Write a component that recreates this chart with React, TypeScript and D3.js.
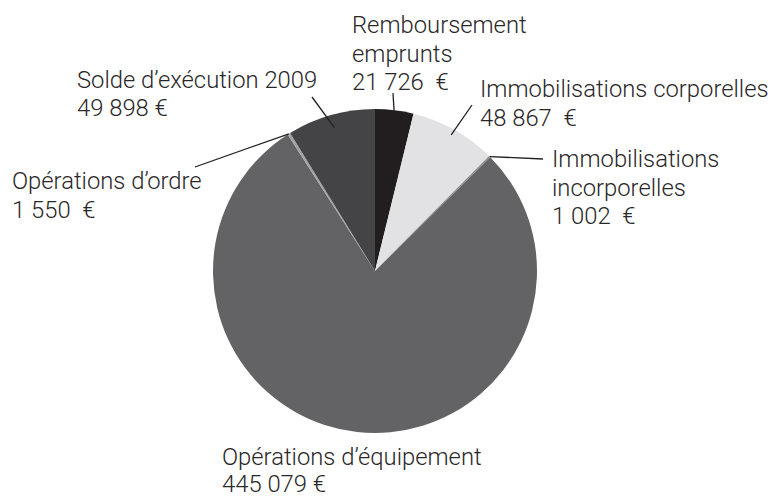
import React from "react";
import * as d3 from "d3";

const categories = [
  "Remboursement emprunts",
  "Immobilisations corporelles",
  "Immobilisations incorporelles",
  "Opérations d’équipement",
  "Opérations d’ordre",
  "Solde d’exécution 2009",
];
const values = [21726, 48867, 1002, 445079, 1550, 49898];
const colors = ["#221e1f", "#e2e2e4", "#8c8c8e", "#636365", "#a3a3a5", "#444446"];
const labelLines = [
  ["Remboursement", "emprunts", "21 726\u00A0 €"],
  ["Immobilisations corporelles", "48 867\u00A0 €"],
  ["Immobilisations", "incorporelles", "1 002\u00A0 €"],
  ["Opérations d’équipement", "445 079 €"],
  ["Opérations d’ordre", "1 550\u00A0 €"],
  ["Solde d’exécution 2009", "49 898 €"],
];
// label anchor (text x, first baseline) and leader outer end, leader inner radius
const labelX = [352, 480, 552, 222, 12, 77];
const labelY = [33, 97, 167, 465, 189, 88];
const lineHs = [28.5, 28.5, 28.5, 27, 28.5, 27.5];
const leaderOuter: ([number, number] | null)[] = [
  [393, 93],
  [472, 105],
  [543, 159],
  null,
  [195, 167],
  [312, 97],
];
const leaderInnerR = [160, 156, 162, 0, 162, 149];

const W = 780;
const H = 499;
const cx = 375;
const cy = 271;
const R = 162;

export default function App() {
  const pie = d3.pie<number>().sort(null).value((d) => d);
  const arcs = pie(values);
  const arc = d3.arc<d3.PieArcDatum<number>>().innerRadius(0).outerRadius(R);

  return (
    <svg
      width={W}
      height={H}
      style={{ position: "absolute", left: 0, top: 0, background: "#fff" }}
      fontFamily="Roboto, 'DejaVu Sans', sans-serif"
    >
      <g transform={`translate(${cx},${cy})`}>
        {arcs.map((a, i) => (
          <path key={i} d={arc(a) || ""} fill={colors[i]} />
        ))}
      </g>
      {arcs.map((a, i) => {
        const o = leaderOuter[i];
        if (!o) return null;
        const mid = (a.startAngle + a.endAngle) / 2;
        const ix = cx + leaderInnerR[i] * Math.sin(mid);
        const iy = cy - leaderInnerR[i] * Math.cos(mid);
        return (
          <line
            key={"l" + i}
            x1={ix}
            y1={iy}
            x2={o[0]}
            y2={o[1]}
            stroke="#231f20"
            strokeWidth={1.3}
          />
        );
      })}
      {labelLines.map((lines, i) => (
        <text
          key={"t" + i}
          x={labelX[i]}
          y={labelY[i]}
          fontSize={23.8}
          fontWeight={300}
          fill="#2a2728"
        >
          {lines.map((ln, j) => (
            <tspan key={j} x={labelX[i]} dy={j === 0 ? 0 : lineHs[i]}>
              {ln}
            </tspan>
          ))}
        </text>
      ))}
    </svg>
  );
}
